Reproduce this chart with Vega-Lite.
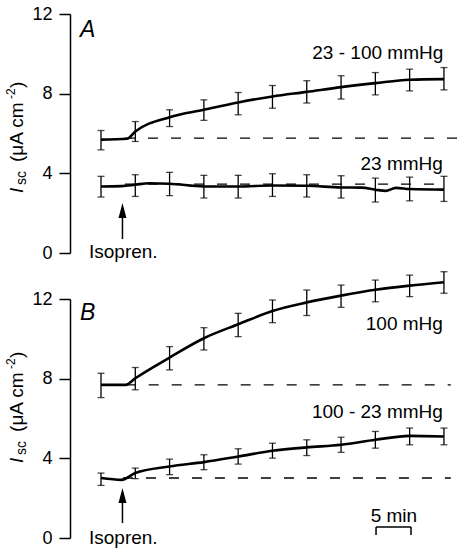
{
  "$schema": "https://vega.github.io/schema/vega-lite/v6.json",
  "padding": {"left": 5, "top": 5, "right": 0, "bottom": 0},
  "data": {"values": [
    {"k":"trace","p":"A","s":"A1","t":0,"v":5.69},{"k":"trace","p":"A","s":"A1","t":3.8,"v":5.74},{"k":"trace","p":"A","s":"A1","t":5,"v":6.1},{"k":"trace","p":"A","s":"A1","t":10,"v":6.82},{"k":"trace","p":"A","s":"A1","t":15,"v":7.19},{"k":"trace","p":"A","s":"A1","t":20,"v":7.56},{"k":"trace","p":"A","s":"A1","t":25,"v":7.86},{"k":"trace","p":"A","s":"A1","t":30,"v":8.09},{"k":"trace","p":"A","s":"A1","t":35,"v":8.33},{"k":"trace","p":"A","s":"A1","t":40,"v":8.53},{"k":"trace","p":"A","s":"A1","t":45,"v":8.7},{"k":"trace","p":"A","s":"A1","t":50,"v":8.73},
    {"k":"trace","p":"A","s":"A2","t":0,"v":3.34},{"k":"trace","p":"A","s":"A2","t":3,"v":3.36},{"k":"trace","p":"A","s":"A2","t":5,"v":3.43},{"k":"trace","p":"A","s":"A2","t":7,"v":3.5},{"k":"trace","p":"A","s":"A2","t":10,"v":3.48},{"k":"trace","p":"A","s":"A2","t":15,"v":3.34},{"k":"trace","p":"A","s":"A2","t":20,"v":3.34},{"k":"trace","p":"A","s":"A2","t":25,"v":3.39},{"k":"trace","p":"A","s":"A2","t":30,"v":3.38},{"k":"trace","p":"A","s":"A2","t":35,"v":3.29},{"k":"trace","p":"A","s":"A2","t":38,"v":3.28},{"k":"trace","p":"A","s":"A2","t":40,"v":3.18},{"k":"trace","p":"A","s":"A2","t":41.5,"v":3.12},{"k":"trace","p":"A","s":"A2","t":43,"v":3.27},{"k":"trace","p":"A","s":"A2","t":45,"v":3.21},{"k":"trace","p":"A","s":"A2","t":50,"v":3.18},
    {"k":"trace","p":"B","s":"B1","t":0,"v":7.69},{"k":"trace","p":"B","s":"B1","t":3.6,"v":7.69},{"k":"trace","p":"B","s":"B1","t":5,"v":8.02},{"k":"trace","p":"B","s":"B1","t":10,"v":9.06},{"k":"trace","p":"B","s":"B1","t":15,"v":10.03},{"k":"trace","p":"B","s":"B1","t":20,"v":10.73},{"k":"trace","p":"B","s":"B1","t":25,"v":11.4},{"k":"trace","p":"B","s":"B1","t":30,"v":11.83},{"k":"trace","p":"B","s":"B1","t":35,"v":12.17},{"k":"trace","p":"B","s":"B1","t":40,"v":12.46},{"k":"trace","p":"B","s":"B1","t":45,"v":12.67},{"k":"trace","p":"B","s":"B1","t":50,"v":12.84},
    {"k":"trace","p":"B","s":"B2","t":0,"v":3.01},{"k":"trace","p":"B","s":"B2","t":3,"v":2.92},{"k":"trace","p":"B","s":"B2","t":5,"v":3.26},{"k":"trace","p":"B","s":"B2","t":10,"v":3.59},{"k":"trace","p":"B","s":"B2","t":15,"v":3.81},{"k":"trace","p":"B","s":"B2","t":20,"v":4.09},{"k":"trace","p":"B","s":"B2","t":25,"v":4.38},{"k":"trace","p":"B","s":"B2","t":30,"v":4.55},{"k":"trace","p":"B","s":"B2","t":35,"v":4.68},{"k":"trace","p":"B","s":"B2","t":40,"v":4.93},{"k":"trace","p":"B","s":"B2","t":45,"v":5.13},{"k":"trace","p":"B","s":"B2","t":50,"v":5.1},
    {"k":"err","p":"A","t":0,"lo":5.18,"hi":6.15},{"k":"err","p":"A","t":5,"lo":5.6,"hi":6.6},{"k":"err","p":"A","t":10,"lo":6.35,"hi":7.19},{"k":"err","p":"A","t":15,"lo":6.66,"hi":7.69},{"k":"err","p":"A","t":20,"lo":6.94,"hi":8.06},{"k":"err","p":"A","t":25,"lo":7.27,"hi":8.41},{"k":"err","p":"A","t":30,"lo":7.53,"hi":8.65},{"k":"err","p":"A","t":35,"lo":7.73,"hi":8.9},{"k":"err","p":"A","t":40,"lo":7.94,"hi":9.06},{"k":"err","p":"A","t":45,"lo":8.14,"hi":9.23},{"k":"err","p":"A","t":50,"lo":8.19,"hi":9.31},
    {"k":"err","p":"A","t":0,"lo":2.81,"hi":3.85},{"k":"err","p":"A","t":5,"lo":2.84,"hi":3.93},{"k":"err","p":"A","t":10,"lo":2.88,"hi":4.05},{"k":"err","p":"A","t":15,"lo":2.76,"hi":3.9},{"k":"err","p":"A","t":20,"lo":2.76,"hi":3.9},{"k":"err","p":"A","t":25,"lo":2.84,"hi":3.98},{"k":"err","p":"A","t":30,"lo":2.81,"hi":3.93},{"k":"err","p":"A","t":35,"lo":2.76,"hi":3.88},{"k":"err","p":"A","t":40,"lo":2.56,"hi":3.76},{"k":"err","p":"A","t":45,"lo":2.62,"hi":3.81},{"k":"err","p":"A","t":50,"lo":2.59,"hi":3.85},
    {"k":"err","p":"B","t":0,"lo":7.05,"hi":8.27},{"k":"err","p":"B","t":5,"lo":7.44,"hi":8.56},{"k":"err","p":"B","t":10,"lo":8.44,"hi":9.61},{"k":"err","p":"B","t":15,"lo":9.44,"hi":10.56},{"k":"err","p":"B","t":20,"lo":10.11,"hi":11.28},{"k":"err","p":"B","t":25,"lo":10.81,"hi":11.95},{"k":"err","p":"B","t":30,"lo":11.17,"hi":12.45},{"k":"err","p":"B","t":35,"lo":11.58,"hi":12.7},{"k":"err","p":"B","t":40,"lo":11.86,"hi":12.95},{"k":"err","p":"B","t":45,"lo":12.12,"hi":13.2},{"k":"err","p":"B","t":50,"lo":12.29,"hi":13.37},
    {"k":"err","p":"B","t":0,"lo":2.64,"hi":3.26},{"k":"err","p":"B","t":5,"lo":2.98,"hi":3.51},{"k":"err","p":"B","t":10,"lo":3.18,"hi":3.96},{"k":"err","p":"B","t":15,"lo":3.43,"hi":4.18},{"k":"err","p":"B","t":20,"lo":3.71,"hi":4.48},{"k":"err","p":"B","t":25,"lo":4.01,"hi":4.76},{"k":"err","p":"B","t":30,"lo":4.14,"hi":4.93},{"k":"err","p":"B","t":35,"lo":4.3,"hi":5.06},{"k":"err","p":"B","t":40,"lo":4.51,"hi":5.35},{"k":"err","p":"B","t":45,"lo":4.68,"hi":5.52},{"k":"err","p":"B","t":50,"lo":4.68,"hi":5.52},
    {"k":"base","p":"A","t":3.5,"t2":52,"v":5.77},{"k":"base","p":"A","t":3.5,"t2":49.5,"v":3.46},{"k":"base","p":"B","t":3.6,"t2":51,"v":7.69},{"k":"base","p":"B","t":3.2,"t2":51,"v":3.01},
    {"k":"lab","p":"A","text":"23 - 100 mmHg","t":49.9,"v":9.72},{"k":"lab","p":"A","text":"23 mmHg","t":49.85,"v":4.17},{"k":"lab","p":"B","text":"100 mHg","t":49.85,"v":10.44},{"k":"lab","p":"B","text":"100 - 23 mmHg","t":49.85,"v":6.02},
    {"k":"iso","p":"A","text":"Isopren.","t":-1.75,"v":-0.25},{"k":"iso","p":"B","text":"Isopren.","t":-1.75,"v":-0.3},
    {"k":"let","p":"A","text":"A","t":-3.06,"v":10.84},{"k":"let","p":"B","text":"B","t":-3.06,"v":10.94},
    {"k":"arrow","p":"A","t":3.13,"v":0.7,"v2":2.2},{"k":"arrow","p":"B","t":3.13,"v":0.75,"v2":2.2},
    {"k":"head","p":"A","t":3.13,"v":2.13},{"k":"head","p":"B","t":3.13,"v":2.13},
    {"k":"yt","p":"A","t":-11.37,"v":3.01},{"k":"yt","p":"B","t":-11.37,"v":3.77},
    {"k":"sb","p":"B","t":40.1,"t2":45.2,"v":0.55,"v2":0.55},{"k":"sb","p":"B","t":40.1,"t2":40.1,"v":0.15,"v2":0.55},{"k":"sb","p":"B","t":45.2,"t2":45.2,"v":0.15,"v2":0.55},
    {"k":"sbt","p":"B","text":"5 min","t":42.7,"v":0.8}
  ]},
  "facet": {"row": {"field": "p", "type": "nominal", "header": null}},
  "spacing": 46,
  "bounds": "flush",
  "spec": {
    "width": 388,
    "height": 239,
    "encoding": {
      "x": {"field": "t", "type": "quantitative", "scale": {"domain": [-4.52, 52.05], "nice": false, "zero": false}, "axis": null},
      "y": {"field": "v", "type": "quantitative", "scale": {"domain": [0, 12], "nice": false, "zero": false}, "axis": {"values": [0, 4, 8, 12], "title": null}}
    },
    "layer": [
      {"transform": [{"filter": "datum.k == 'base'"}], "mark": {"type": "rule", "color": "#000", "strokeWidth": 1.4, "strokeDash": [10, 13]}, "encoding": {"x2": {"field": "t2"}}},
      {"transform": [{"filter": "datum.k == 'err'"}], "mark": {"type": "errorbar", "color": "#000", "ticks": {"size": 7, "thickness": 1.3}, "rule": {"strokeWidth": 1.3}},
       "encoding": {"y": {"field": "lo", "type": "quantitative", "scale": {"domain": [0, 12], "nice": false, "zero": false}, "axis": {"values": [0, 4, 8, 12], "title": null}}, "y2": {"field": "hi"}}},
      {"transform": [{"filter": "datum.k == 'trace'"}], "mark": {"type": "line", "color": "#000", "strokeWidth": 2.6, "interpolate": "monotone"}, "encoding": {"detail": {"field": "s"}}},
      {"transform": [{"filter": "datum.k == 'arrow' || datum.k == 'sb'"}], "mark": {"type": "rule", "color": "#000", "strokeWidth": 1.5}, "encoding": {"x2": {"field": "t2"}, "y2": {"field": "v2"}}},
      {"transform": [{"filter": "datum.k == 'head'"}], "mark": {"type": "point", "shape": "M0,-1L0.53,1L-0.53,1Z", "size": 225, "filled": true, "color": "#000", "opacity": 1, "strokeWidth": 0}},
      {"transform": [{"filter": "datum.k == 'lab'"}], "mark": {"type": "text", "align": "right", "baseline": "alphabetic", "fontSize": 19, "color": "#000"}, "encoding": {"text": {"field": "text"}}},
      {"transform": [{"filter": "datum.k == 'iso'"}], "mark": {"type": "text", "align": "left", "baseline": "alphabetic", "fontSize": 19, "color": "#000"}, "encoding": {"text": {"field": "text"}}},
      {"transform": [{"filter": "datum.k == 'sbt'"}], "mark": {"type": "text", "align": "center", "baseline": "alphabetic", "fontSize": 19, "color": "#000"}, "encoding": {"text": {"field": "text"}}},
      {"transform": [{"filter": "datum.k == 'let'"}], "mark": {"type": "text", "align": "left", "baseline": "alphabetic", "fontSize": 23, "fontStyle": "italic", "color": "#000"}, "encoding": {"text": {"field": "text"}}},
      {"transform": [{"filter": "datum.k == 'yt'"}], "mark": {"type": "text", "angle": 270, "align": "left", "baseline": "alphabetic", "fontSize": 19, "fontStyle": "italic", "color": "#000", "dx": 0}, "encoding": {"text": {"value": "I"}}},
      {"transform": [{"filter": "datum.k == 'yt'"}], "mark": {"type": "text", "angle": 270, "align": "left", "baseline": "alphabetic", "fontSize": 14, "color": "#000", "dx": 8, "dy": 3}, "encoding": {"text": {"value": "sc"}}},
      {"transform": [{"filter": "datum.k == 'yt'"}], "mark": {"type": "text", "angle": 270, "align": "left", "baseline": "alphabetic", "fontSize": 19, "color": "#000", "dx": 31}, "encoding": {"text": {"value": "(μA cm"}}},
      {"transform": [{"filter": "datum.k == 'yt'"}], "mark": {"type": "text", "angle": 270, "align": "left", "baseline": "alphabetic", "fontSize": 12, "color": "#000", "dx": 94, "dy": -8}, "encoding": {"text": {"value": "-2"}}},
      {"transform": [{"filter": "datum.k == 'yt'"}], "mark": {"type": "text", "angle": 270, "align": "left", "baseline": "alphabetic", "fontSize": 19, "color": "#000", "dx": 105}, "encoding": {"text": {"value": ")"}}}
    ]
  },
  "config": {
    "font": "Liberation Sans",
    "view": {"stroke": null},
    "axis": {"grid": false, "domainColor": "#000", "tickColor": "#000", "labelColor": "#000", "domainWidth": 1.5, "tickWidth": 1.5, "tickSize": 11, "labelFontSize": 18, "labelFont": "Liberation Sans", "labelPadding": 7}
  }
}
